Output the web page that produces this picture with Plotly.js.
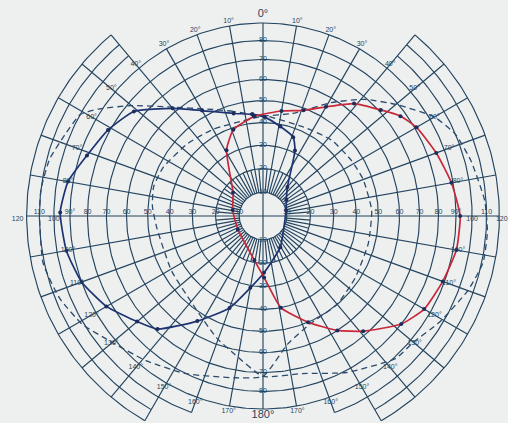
<!DOCTYPE html>
<html><head><meta charset="utf-8">
<script src="https://cdn.plot.ly/plotly-3.0.1.min.js"></script>
<style>html,body{margin:0;padding:0;background:#eef0f0;}#chart{width:508px;height:423px;}</style>
</head><body><div id="chart"></div>
<script>
// ---- data: visual field isopters (angle = meridian in degrees clockwise from top, ecc = eccentricity in degrees)
const blueAngles = [-6,-16,-30,-40,-51,-61,-71,-80,-89,-100,-110,-120,-130,-137,-148,-160,-170,179,151,76,55,40,26,21,11,1];
const blueEcc    = [44,46,53,62,75,81,86,93,96,94,90,83,74,69,54,42,31,24,15,10,12,16,31,36,39,42.5];

const redAngles = [-5,10,21,30,39,48,54,60,70,80,90,100,110,120,128,139,147,157,169,179,-169,-118,-79,-52,-29,-19];
const redEcc    = [43,46,49,55,64,71,77,81,85,89,92.5,92,89,86,80,68,60,50,40,26,19,12,13,16,32,39];

const dashLAngles = [0,-16,-25,-41,-50,-57,-61,-67,-75,-83,-89,-102,-112,-121,-129,-141,-154,-170,180,169,156,140,124,105,87,70,58,42,25,2];
const dashLEcc    = [43,47,51,64,78,92,100,103,108,110,110,111,107,101,93,86,80,74,72,57,51,50,48,47,47,46,45,44,42,43];

const dashRAngles = [0,16,31,41,50,60,67,75,86,94,102,110,121,130,137,152,166,180,-168,-159,-142,-121,-97,-85,-75,-64,-46,-30,-8,0];
const dashREcc    = [43,46,58,69,79,93,100,104,109,111,111,106,98,92,91,81,73,72,62,57,49,46,46,48,49,48,45,43,42,43];

// ---- grid / tick definitions
const ringValues = [10,20,30,40,50,60,70,80,90,100,110,120];
const spokeAngles = []; for (let a = 0; a < 360; a += 10) spokeAngles.push(a);
const fineSpokeAngles = []; for (let a = 5; a < 360; a += 10) fineSpokeAngles.push(a);
const meridianLabels = [10,20,30,40,50,60,70,80,100,110,120,130,140,150,160,170];
const verticalTickLabels = [10,20,30,40,50,60,70,80];
const horizontalTickLabels = ['10','20','30','40','50','60','70','80','90°','100','110','120'];
const horizontalTickValues = [10,20,30,40,50,60,70,80,90,100,110,120];

// chart outline: outer eccentricity per meridian band (|angle|)
function maxEcc(t){ t = Math.abs(t); if (t > 180) t = 360 - t; return t < 40 ? 90 : t <= 150 ? 120 : t <= 160 ? 100 : 90; }

// equal-area perimetry projection (90 deg -> 1)
const S90 = Math.sin(Math.PI/4);
function rad(e){ return Math.sin(e*Math.PI/360)/S90; }
function px(th,e){ return rad(e)*Math.sin(th*Math.PI/180); }
function py(th,e){ return rad(e)*Math.cos(th*Math.PI/180); }
function close(a){ return a.concat([a[0]]); }

const GRID = '#24445f';
const traces = [];

// rings
const gx = [], gy = [];
ringValues.forEach(r => {
  let on = false;
  for (let t = -180; t <= 180; t += 1) {
    if (maxEcc(t) >= r) { gx.push(px(t,r)); gy.push(py(t,r)); on = true; }
    else if (on) { gx.push(null); gy.push(null); on = false; }
  }
  gx.push(null); gy.push(null);
});
// spokes
spokeAngles.forEach(a => {
  const start = (a % 90 === 0) ? 0 : 10;
  gx.push(px(a,start), px(a,maxEcc(a)), null);
  gy.push(py(a,start), py(a,maxEcc(a)), null);
});
fineSpokeAngles.forEach(a => {
  gx.push(px(a,10), px(a,20), null);
  gy.push(py(a,10), py(a,20), null);
});
traces.push({x:gx, y:gy, mode:'lines', line:{color:GRID, width:1.15}, hoverinfo:'skip'});

// isopters
function curve(angles, ecc, color, dash, markers){
  const A = close(angles), E = close(ecc);
  return {x:A.map((a,i)=>px(a,E[i])), y:A.map((a,i)=>py(a,E[i])),
    mode: markers ? 'lines+markers' : 'lines',
    line:{color:color, width: dash ? 1.3 : 1.7, dash: dash ? '6px,4px' : 'solid', shape:'spline', smoothing:0.5},
    marker:{size:4, color:'#1c2c5c'}, hoverinfo:'skip'};
}
traces.push(curve(dashLAngles, dashLEcc, '#2b4a6c', true, false));
traces.push(curve(dashRAngles, dashREcc, '#2b4a6c', true, false));
traces.push(curve(blueAngles, blueEcc, '#1e3472', false, true));
traces.push(curve(redAngles, redEcc, '#c8283a', false, true));

// meridian labels
const mlx=[], mly=[], mlt=[];
meridianLabels.forEach(m => {
  [m, -m].forEach(a => { mlx.push(px(a,93)); mly.push(py(a,93)); mlt.push(m + '°'); });
});
traces.push({x:mlx, y:mly, text:mlt, mode:'text', textposition:'middle center',
  textfont:{family:'Liberation Sans', size:7, color:GRID}, hoverinfo:'skip'});
traces.push({x:[px(0,95.5), px(180,93.5)], y:[py(0,95.5), py(180,93.5)], text:['0°','180°'], mode:'text',
  textposition:'middle center', textfont:{family:'Liberation Sans', size:11, color:GRID}, hoverinfo:'skip'});

// vertical axis labels
const vx=[], vy=[], vt=[];
verticalTickLabels.forEach(v => {
  [0,180].forEach(a => { vx.push(px(a,v)); vy.push(py(a,v)); vt.push(String(v)); });
});
traces.push({x:vx, y:vy, text:vt, mode:'text', textposition:'middle center',
  textfont:{family:'Liberation Sans', size:7, color:GRID}, hoverinfo:'skip'});

// horizontal axis labels
const hxA=[], hyA=[], htA=[], hxB=[], hyB=[], htB=[];
horizontalTickValues.forEach((v, i) => {
  [90,-90].forEach(a => {
    const below = (v === 100 || v === 120);
    const e = v === 120 ? (a > 0 ? 122 : 128) : v;
    (below ? hxB : hxA).push(px(a,e)); (below ? hyB : hyA).push(py(a,e)); (below ? htB : htA).push(horizontalTickLabels[i]);
  });
});
traces.push({x:hxA, y:hyA, text:htA, mode:'text', textposition:'top center',
  textfont:{family:'Liberation Sans', size:7, color:GRID}, hoverinfo:'skip'});
traces.push({x:hxB, y:hyB, text:htB, mode:'text', textposition:'bottom center',
  textfont:{family:'Liberation Sans', size:7, color:GRID}, hoverinfo:'skip'});

const U = 193;
const layout = {
  width:508, height:423, margin:{l:0,r:0,t:0,b:0},
  paper_bgcolor:'#eef0f0', plot_bgcolor:'#eef0f0', showlegend:false,
  xaxis:{range:[-263/U, 245/U], visible:false, fixedrange:true},
  yaxis:{range:[-207/U, 216/U], visible:false, fixedrange:true}
};
Plotly.newPlot('chart', traces, layout, {displayModeBar:false, staticPlot:true});
</script></body></html>
